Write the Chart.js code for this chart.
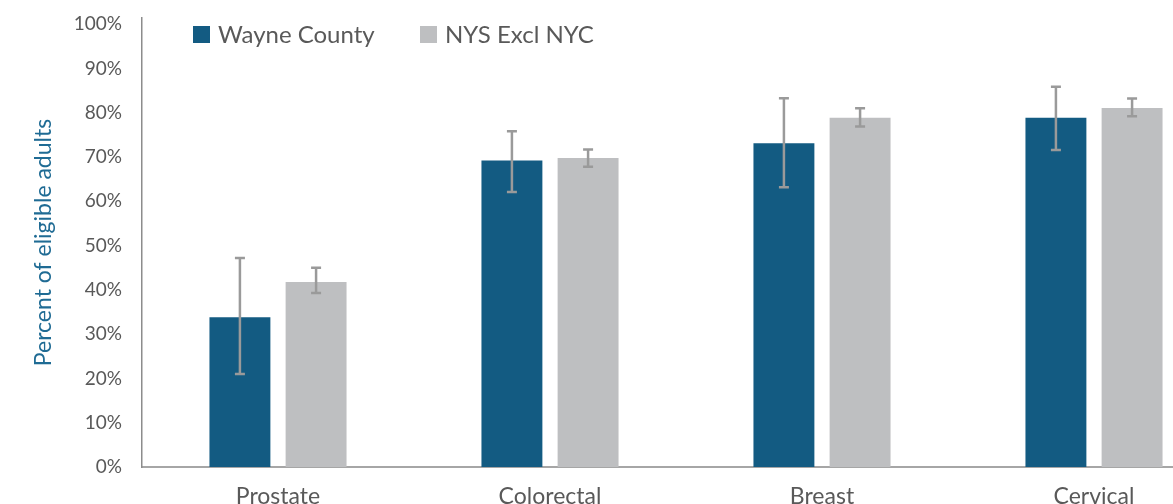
<!DOCTYPE html>
<html>
<head>
    <title>Cancer Screening</title>
    <script src="https://cdn.jsdelivr.net/npm/chart.js"></script>
    <style>
        html, body {
            margin: 0;
            padding: 0;
            overflow: hidden;
            background: #ffffff;
        }
        #wrap {
            width: 1240px;
            height: 512px;
        }
    </style>
</head>
<body>
    <div id="wrap">
        <canvas id="screeningChart" width="1240" height="512"></canvas>
    </div>

    <script>
        // Screening rates (percent) with 95% confidence limits
        const categories = ['Prostate', 'Colorectal', 'Breast', 'Cervical'];
        const seriesNames = ['Wayne County', 'NYS Excl NYC'];

        const wayne = [33.8, 69.2, 73.1, 78.9];
        const wayneLow = [21.0, 62.1, 63.2, 71.6];
        const wayneHigh = [47.2, 75.8, 83.3, 85.9];

        const nys = [41.8, 69.8, 78.9, 81.1];
        const nysLow = [39.3, 67.8, 76.9, 79.2];
        const nysHigh = [45.0, 71.7, 81.0, 83.2];

        const yTicks = [0, 10, 20, 30, 40, 50, 60, 70, 80, 90, 100];

        const FONT = 'Lato, "Open Sans", sans-serif';
        const TEXT = '#595959';

        // Draws the confidence interval whiskers over each bar
        const errorBars = {
            id: 'errorBars',
            afterDatasetsDraw(chart) {
                const ctx = chart.ctx;
                const y = chart.scales.y;
                chart.data.datasets.forEach((ds, i) => {
                    const meta = chart.getDatasetMeta(i);
                    meta.data.forEach((bar, j) => {
                        const top = y.getPixelForValue(ds.high[j]);
                        const bottom = y.getPixelForValue(ds.low[j]);
                        ctx.save();
                        ctx.strokeStyle = '#9a9a9a';
                        ctx.lineWidth = 2.5;
                        ctx.beginPath();
                        ctx.moveTo(bar.x, top);
                        ctx.lineTo(bar.x, bottom);
                        ctx.moveTo(bar.x - 5, top);
                        ctx.lineTo(bar.x + 5, top);
                        ctx.moveTo(bar.x - 5, bottom);
                        ctx.lineTo(bar.x + 5, bottom);
                        ctx.stroke();
                        ctx.restore();
                    });
                });
            }
        };

        // Legend drawn inside the plot, top left
        const insideLegend = {
            id: 'insideLegend',
            afterDraw(chart) {
                const ctx = chart.ctx;
                const area = chart.chartArea;
                let x = area.left + 51;
                const yTop = 26;
                ctx.save();
                ctx.font = '24px ' + FONT;
                ctx.textBaseline = 'middle';
                chart.data.datasets.forEach(ds => {
                    ctx.fillStyle = ds.backgroundColor;
                    ctx.fillRect(x, yTop, 17, 17);
                    ctx.fillStyle = TEXT;
                    ctx.fillText(ds.label, x + 25, yTop + 9);
                    x += 227;
                });
                ctx.restore();
            }
        };

        const ctx = document.getElementById('screeningChart').getContext('2d');
        new Chart(ctx, {
            type: 'bar',
            data: {
                labels: categories,
                datasets: [
                    {
                        label: seriesNames[0],
                        data: wayne,
                        low: wayneLow,
                        high: wayneHigh,
                        backgroundColor: '#135b82',
                        barPercentage: 0.8,
                        categoryPercentage: 0.56
                    },
                    {
                        label: seriesNames[1],
                        data: nys,
                        low: nysLow,
                        high: nysHigh,
                        backgroundColor: '#bebfc1',
                        barPercentage: 0.8,
                        categoryPercentage: 0.56
                    }
                ]
            },
            options: {
                responsive: false,
                animation: false,
                layout: {
                    padding: { top: 18, right: 10, left: 0, bottom: 0 }
                },
                plugins: {
                    legend: { display: false },
                    tooltip: { enabled: false }
                },
                scales: {
                    x: {
                        grid: { display: false },
                        border: { display: true, color: '#a6a6a6', width: 2 },
                        ticks: {
                            color: TEXT,
                            font: { family: FONT, size: 23 },
                            padding: 8
                        },
                        afterFit(scale) { scale.height = 45; }
                    },
                    y: {
                        min: 0,
                        max: 101.4,
                        grid: { display: false, drawTicks: false },
                        border: { display: true, color: '#8c8c8c', width: 1.5 },
                        afterBuildTicks(scale) {
                            scale.ticks = yTicks.map(v => ({ value: v }));
                        },
                        ticks: {
                            color: TEXT,
                            font: { family: FONT, size: 19 },
                            padding: 20,
                            callback: v => v + '%'
                        },
                        title: {
                            display: true,
                            text: 'Percent of eligible adults',
                            color: '#1f6b94',
                            font: { family: FONT, size: 23 },
                            padding: { top: 30, bottom: 0 }
                        },
                        afterFit(scale) {
                            scale.width = 142;
                            scale.paddingTop = 0;
                            scale.paddingBottom = 0;
                        }
                    }
                }
            },
            plugins: [errorBars, insideLegend]
        });
    </script>
</body>
</html>
